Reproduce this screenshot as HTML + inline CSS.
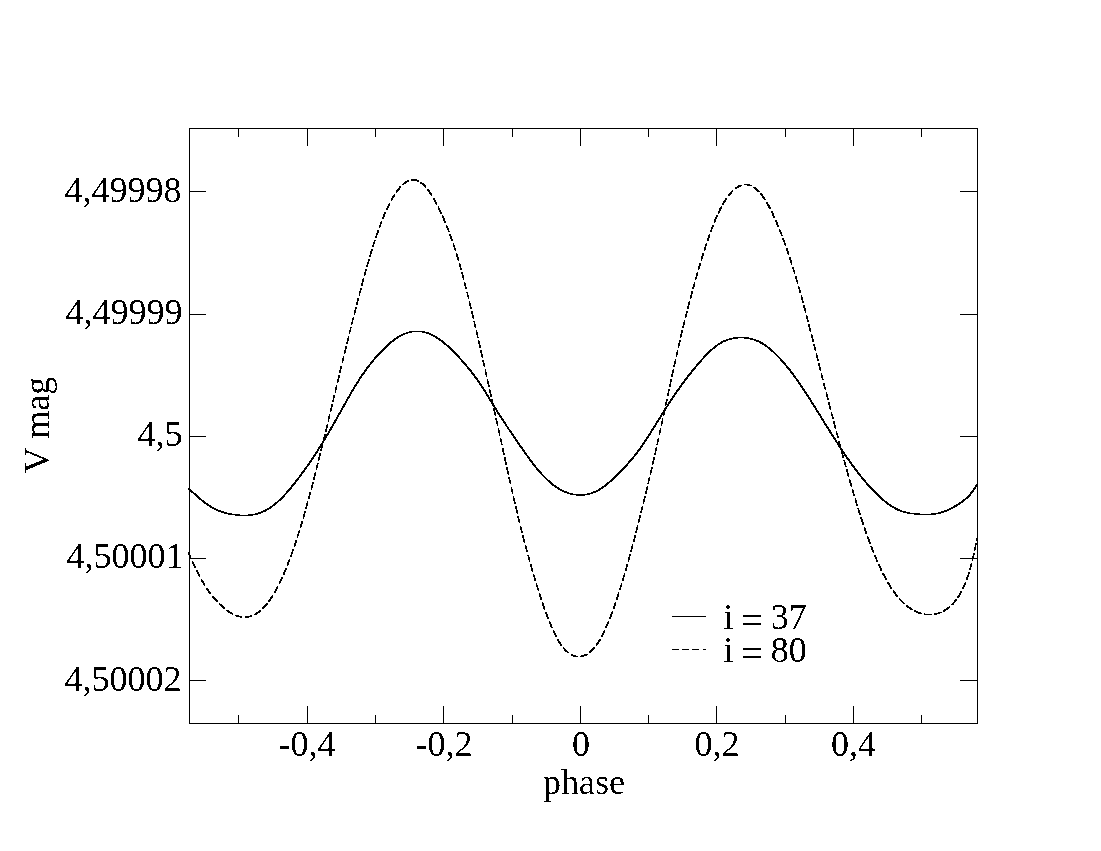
<!DOCTYPE html>
<html><head><meta charset="utf-8"><style>
html,body{margin:0;padding:0;background:#fff;width:1101px;height:851px;overflow:hidden}
svg{display:block}
text{font-family:"Liberation Serif",serif;font-size:36px;fill:#000}
</style></head><body>
<svg width="1101" height="851" viewBox="0 0 1101 851">
<rect width="1101" height="851" fill="#fff"/>
<path d="M189,128.5H978M189,723.5H978M189.5,128V724M977.5,128V724M307.5,706V724M307.5,128V146M443.5,706V724M443.5,128V146M580.5,706V724M580.5,128V146M716.5,706V724M716.5,128V146M853.5,706V724M853.5,128V146M238.5,715V724M238.5,128V137M375.5,715V724M375.5,128V137M512.5,715V724M512.5,128V137M648.5,715V724M648.5,128V137M785.5,715V724M785.5,128V137M921.5,715V724M921.5,128V137M189,191.5H206M960,191.5H978M189,314.5H206M960,314.5H978M189,436.5H206M960,436.5H978M189,558.5H206M960,558.5H978M189,680.5H206M960,680.5H978" stroke="#000" stroke-width="1" fill="none" shape-rendering="crispEdges"/>
<path d="M409 331h16v1h-16zM406 332h6v1h-6zM422 332h7v1h-7zM403 333h5v1h-5zM426 333h5v1h-5zM401 334h4v1h-4zM429 334h4v1h-4zM399 335h4v1h-4zM431 335h4v1h-4zM397 336h4v1h-4zM433 336h4v1h-4zM396 337h3v1h-3zM435 337h3v1h-3zM733 337h16v1h-16zM394 338h4v1h-4zM436 338h4v1h-4zM729 338h9v1h-9zM744 338h9v1h-9zM393 339h3v1h-3zM438 339h3v1h-3zM726 339h6v1h-6zM750 339h6v1h-6zM392 340h3v1h-3zM439 340h4v1h-4zM723 340h5v1h-5zM754 340h5v1h-5zM390 341h4v1h-4zM441 341h3v1h-3zM721 341h5v1h-5zM756 341h5v1h-5zM389 342h3v1h-3zM442 342h3v1h-3zM720 342h3v1h-3zM759 342h4v1h-4zM388 343h3v1h-3zM443 343h3v1h-3zM718 343h4v1h-4zM760 343h4v1h-4zM387 344h3v1h-3zM444 344h3v1h-3zM717 344h3v1h-3zM762 344h4v1h-4zM386 345h3v1h-3zM446 345h3v1h-3zM715 345h3v1h-3zM764 345h3v1h-3zM385 346h3v1h-3zM447 346h3v1h-3zM714 346h3v1h-3zM765 346h3v1h-3zM384 347h3v1h-3zM448 347h3v1h-3zM713 347h3v1h-3zM767 347h3v1h-3zM383 348h3v1h-3zM449 348h3v1h-3zM712 348h3v1h-3zM768 348h3v1h-3zM382 349h3v1h-3zM450 349h3v1h-3zM710 349h3v1h-3zM769 349h3v1h-3zM381 350h3v1h-3zM451 350h3v1h-3zM709 350h3v1h-3zM770 350h3v1h-3zM380 351h3v1h-3zM452 351h3v1h-3zM708 351h3v1h-3zM771 351h3v1h-3zM379 352h3v1h-3zM453 352h3v1h-3zM707 352h3v1h-3zM773 352h2v1h-2zM378 353h3v1h-3zM454 353h3v1h-3zM706 353h3v1h-3zM774 353h2v1h-2zM377 354h3v1h-3zM455 354h3v1h-3zM705 354h3v1h-3zM775 354h2v1h-2zM376 355h3v1h-3zM456 355h3v1h-3zM704 355h3v1h-3zM776 355h2v1h-2zM375 356h3v1h-3zM457 356h3v1h-3zM703 356h3v1h-3zM777 356h2v1h-2zM374 357h3v1h-3zM458 357h2v1h-2zM703 357h2v1h-2zM778 357h2v1h-2zM374 358h2v1h-2zM459 358h2v1h-2zM702 358h2v1h-2zM779 358h2v1h-2zM373 359h2v1h-2zM460 359h2v1h-2zM701 359h2v1h-2zM780 359h2v1h-2zM372 360h2v1h-2zM461 360h2v1h-2zM700 360h2v1h-2zM780 360h3v1h-3zM371 361h3v1h-3zM461 361h3v1h-3zM699 361h3v1h-3zM781 361h3v1h-3zM370 362h3v1h-3zM462 362h3v1h-3zM698 362h3v1h-3zM782 362h3v1h-3zM370 363h2v1h-2zM463 363h3v1h-3zM697 363h3v1h-3zM783 363h3v1h-3zM369 364h2v1h-2zM464 364h3v1h-3zM696 364h3v1h-3zM784 364h2v1h-2zM368 365h2v1h-2zM465 365h2v1h-2zM696 365h2v1h-2zM785 365h2v1h-2zM367 366h3v1h-3zM466 366h2v1h-2zM695 366h2v1h-2zM786 366h2v1h-2zM366 367h3v1h-3zM467 367h2v1h-2zM694 367h2v1h-2zM786 367h3v1h-3zM366 368h2v1h-2zM467 368h3v1h-3zM693 368h3v1h-3zM787 368h3v1h-3zM365 369h2v1h-2zM468 369h3v1h-3zM692 369h3v1h-3zM788 369h3v1h-3zM364 370h3v1h-3zM469 370h3v1h-3zM691 370h3v1h-3zM789 370h2v1h-2zM364 371h2v1h-2zM470 371h2v1h-2zM691 371h2v1h-2zM790 371h2v1h-2zM363 372h2v1h-2zM471 372h2v1h-2zM690 372h2v1h-2zM790 372h3v1h-3zM362 373h3v1h-3zM471 373h3v1h-3zM689 373h3v1h-3zM791 373h3v1h-3zM361 374h3v1h-3zM472 374h3v1h-3zM688 374h3v1h-3zM792 374h2v1h-2zM361 375h2v1h-2zM473 375h2v1h-2zM687 375h3v1h-3zM793 375h2v1h-2zM360 376h2v1h-2zM474 376h2v1h-2zM687 376h2v1h-2zM793 376h3v1h-3zM359 377h3v1h-3zM474 377h3v1h-3zM686 377h2v1h-2zM794 377h2v1h-2zM359 378h2v1h-2zM475 378h3v1h-3zM685 378h3v1h-3zM795 378h2v1h-2zM358 379h2v1h-2zM476 379h2v1h-2zM684 379h3v1h-3zM796 379h2v1h-2zM358 380h2v1h-2zM477 380h2v1h-2zM684 380h2v1h-2zM796 380h3v1h-3zM357 381h2v1h-2zM477 381h3v1h-3zM683 381h2v1h-2zM797 381h2v1h-2zM356 382h3v1h-3zM478 382h2v1h-2zM682 382h3v1h-3zM798 382h2v1h-2zM356 383h2v1h-2zM479 383h2v1h-2zM681 383h3v1h-3zM798 383h3v1h-3zM355 384h2v1h-2zM479 384h3v1h-3zM681 384h2v1h-2zM799 384h2v1h-2zM354 385h3v1h-3zM480 385h2v1h-2zM680 385h2v1h-2zM800 385h2v1h-2zM354 386h2v1h-2zM481 386h2v1h-2zM679 386h3v1h-3zM800 386h3v1h-3zM353 387h2v1h-2zM481 387h3v1h-3zM679 387h2v1h-2zM801 387h2v1h-2zM353 388h2v1h-2zM482 388h2v1h-2zM678 388h2v1h-2zM802 388h2v1h-2zM352 389h2v1h-2zM483 389h2v1h-2zM677 389h3v1h-3zM802 389h3v1h-3zM351 390h3v1h-3zM483 390h3v1h-3zM676 390h3v1h-3zM803 390h2v1h-2zM351 391h2v1h-2zM484 391h2v1h-2zM676 391h2v1h-2zM804 391h2v1h-2zM350 392h2v1h-2zM485 392h2v1h-2zM675 392h2v1h-2zM804 392h3v1h-3zM350 393h2v1h-2zM485 393h2v1h-2zM674 393h3v1h-3zM805 393h2v1h-2zM349 394h2v1h-2zM486 394h2v1h-2zM674 394h2v1h-2zM806 394h2v1h-2zM349 395h2v1h-2zM486 395h3v1h-3zM673 395h2v1h-2zM806 395h3v1h-3zM348 396h2v1h-2zM487 396h2v1h-2zM672 396h3v1h-3zM807 396h2v1h-2zM347 397h3v1h-3zM488 397h2v1h-2zM672 397h2v1h-2zM808 397h2v1h-2zM347 398h2v1h-2zM488 398h2v1h-2zM671 398h2v1h-2zM808 398h3v1h-3zM346 399h2v1h-2zM489 399h2v1h-2zM670 399h3v1h-3zM809 399h2v1h-2zM346 400h2v1h-2zM489 400h3v1h-3zM670 400h2v1h-2zM810 400h2v1h-2zM345 401h2v1h-2zM490 401h2v1h-2zM669 401h2v1h-2zM810 401h2v1h-2zM345 402h2v1h-2zM491 402h2v1h-2zM668 402h3v1h-3zM811 402h2v1h-2zM344 403h2v1h-2zM491 403h3v1h-3zM668 403h2v1h-2zM811 403h3v1h-3zM343 404h3v1h-3zM492 404h2v1h-2zM667 404h2v1h-2zM812 404h2v1h-2zM343 405h2v1h-2zM493 405h2v1h-2zM667 405h2v1h-2zM813 405h2v1h-2zM342 406h3v1h-3zM493 406h2v1h-2zM666 406h2v1h-2zM813 406h3v1h-3zM342 407h2v1h-2zM494 407h2v1h-2zM665 407h2v1h-2zM814 407h2v1h-2zM341 408h2v1h-2zM494 408h3v1h-3zM665 408h2v1h-2zM815 408h2v1h-2zM341 409h2v1h-2zM495 409h2v1h-2zM664 409h2v1h-2zM815 409h2v1h-2zM340 410h2v1h-2zM496 410h2v1h-2zM663 410h3v1h-3zM816 410h2v1h-2zM340 411h2v1h-2zM496 411h2v1h-2zM663 411h2v1h-2zM816 411h3v1h-3zM339 412h2v1h-2zM497 412h2v1h-2zM662 412h2v1h-2zM817 412h2v1h-2zM338 413h3v1h-3zM497 413h3v1h-3zM661 413h3v1h-3zM818 413h2v1h-2zM338 414h2v1h-2zM498 414h2v1h-2zM661 414h2v1h-2zM818 414h3v1h-3zM337 415h2v1h-2zM499 415h2v1h-2zM660 415h2v1h-2zM819 415h2v1h-2zM337 416h2v1h-2zM499 416h3v1h-3zM660 416h2v1h-2zM820 416h2v1h-2zM336 417h2v1h-2zM500 417h2v1h-2zM659 417h2v1h-2zM820 417h2v1h-2zM336 418h2v1h-2zM501 418h2v1h-2zM658 418h3v1h-3zM821 418h2v1h-2zM335 419h2v1h-2zM501 419h3v1h-3zM658 419h2v1h-2zM821 419h3v1h-3zM334 420h3v1h-3zM502 420h2v1h-2zM657 420h2v1h-2zM822 420h2v1h-2zM334 421h2v1h-2zM503 421h2v1h-2zM656 421h3v1h-3zM823 421h2v1h-2zM333 422h3v1h-3zM503 422h3v1h-3zM656 422h2v1h-2zM823 422h2v1h-2zM333 423h2v1h-2zM504 423h2v1h-2zM655 423h2v1h-2zM824 423h2v1h-2zM332 424h2v1h-2zM505 424h2v1h-2zM655 424h2v1h-2zM824 424h3v1h-3zM332 425h2v1h-2zM505 425h2v1h-2zM654 425h2v1h-2zM825 425h2v1h-2zM331 426h2v1h-2zM506 426h2v1h-2zM653 426h3v1h-3zM826 426h2v1h-2zM330 427h3v1h-3zM507 427h2v1h-2zM653 427h2v1h-2zM826 427h3v1h-3zM330 428h2v1h-2zM507 428h2v1h-2zM652 428h2v1h-2zM827 428h2v1h-2zM329 429h3v1h-3zM508 429h2v1h-2zM651 429h3v1h-3zM828 429h2v1h-2zM329 430h2v1h-2zM509 430h2v1h-2zM651 430h2v1h-2zM828 430h3v1h-3zM328 431h2v1h-2zM509 431h3v1h-3zM650 431h2v1h-2zM829 431h2v1h-2zM328 432h2v1h-2zM510 432h2v1h-2zM650 432h2v1h-2zM829 432h3v1h-3zM327 433h2v1h-2zM511 433h2v1h-2zM649 433h2v1h-2zM830 433h2v1h-2zM326 434h3v1h-3zM511 434h3v1h-3zM648 434h3v1h-3zM831 434h2v1h-2zM326 435h2v1h-2zM512 435h2v1h-2zM648 435h2v1h-2zM831 435h3v1h-3zM325 436h2v1h-2zM513 436h2v1h-2zM647 436h2v1h-2zM832 436h2v1h-2zM325 437h2v1h-2zM513 437h3v1h-3zM646 437h3v1h-3zM833 437h2v1h-2zM324 438h2v1h-2zM514 438h2v1h-2zM646 438h2v1h-2zM833 438h3v1h-3zM323 439h3v1h-3zM515 439h2v1h-2zM645 439h2v1h-2zM834 439h2v1h-2zM323 440h2v1h-2zM515 440h3v1h-3zM644 440h3v1h-3zM835 440h2v1h-2zM322 441h2v1h-2zM516 441h2v1h-2zM644 441h2v1h-2zM835 441h2v1h-2zM322 442h2v1h-2zM517 442h2v1h-2zM643 442h2v1h-2zM836 442h2v1h-2zM321 443h2v1h-2zM517 443h3v1h-3zM642 443h3v1h-3zM837 443h2v1h-2zM320 444h3v1h-3zM518 444h2v1h-2zM642 444h2v1h-2zM837 444h2v1h-2zM320 445h2v1h-2zM519 445h2v1h-2zM641 445h2v1h-2zM838 445h2v1h-2zM319 446h2v1h-2zM519 446h3v1h-3zM640 446h3v1h-3zM838 446h3v1h-3zM318 447h3v1h-3zM520 447h3v1h-3zM640 447h2v1h-2zM839 447h2v1h-2zM318 448h2v1h-2zM521 448h2v1h-2zM639 448h2v1h-2zM840 448h2v1h-2zM317 449h2v1h-2zM522 449h2v1h-2zM638 449h3v1h-3zM840 449h3v1h-3zM317 450h2v1h-2zM522 450h3v1h-3zM637 450h3v1h-3zM841 450h2v1h-2zM316 451h2v1h-2zM523 451h2v1h-2zM637 451h2v1h-2zM842 451h2v1h-2zM315 452h3v1h-3zM524 452h2v1h-2zM636 452h2v1h-2zM842 452h3v1h-3zM315 453h2v1h-2zM524 453h3v1h-3zM635 453h3v1h-3zM843 453h2v1h-2zM314 454h2v1h-2zM525 454h2v1h-2zM634 454h3v1h-3zM844 454h2v1h-2zM313 455h3v1h-3zM526 455h2v1h-2zM634 455h2v1h-2zM844 455h3v1h-3zM313 456h2v1h-2zM527 456h2v1h-2zM633 456h2v1h-2zM845 456h2v1h-2zM312 457h2v1h-2zM527 457h3v1h-3zM632 457h2v1h-2zM846 457h2v1h-2zM311 458h3v1h-3zM528 458h2v1h-2zM631 458h3v1h-3zM846 458h3v1h-3zM311 459h2v1h-2zM529 459h2v1h-2zM630 459h3v1h-3zM847 459h3v1h-3zM310 460h2v1h-2zM529 460h3v1h-3zM629 460h3v1h-3zM848 460h2v1h-2zM309 461h3v1h-3zM530 461h3v1h-3zM628 461h3v1h-3zM849 461h2v1h-2zM309 462h2v1h-2zM531 462h2v1h-2zM628 462h2v1h-2zM849 462h3v1h-3zM308 463h2v1h-2zM532 463h2v1h-2zM627 463h2v1h-2zM850 463h2v1h-2zM307 464h3v1h-3zM532 464h3v1h-3zM626 464h2v1h-2zM851 464h2v1h-2zM307 465h2v1h-2zM533 465h3v1h-3zM625 465h3v1h-3zM851 465h3v1h-3zM306 466h2v1h-2zM534 466h2v1h-2zM624 466h3v1h-3zM852 466h3v1h-3zM305 467h2v1h-2zM535 467h2v1h-2zM623 467h3v1h-3zM853 467h2v1h-2zM304 468h3v1h-3zM536 468h2v1h-2zM622 468h3v1h-3zM854 468h2v1h-2zM304 469h2v1h-2zM536 469h3v1h-3zM621 469h3v1h-3zM854 469h3v1h-3zM303 470h2v1h-2zM537 470h3v1h-3zM620 470h3v1h-3zM855 470h3v1h-3zM302 471h3v1h-3zM538 471h3v1h-3zM619 471h3v1h-3zM856 471h2v1h-2zM301 472h3v1h-3zM539 472h3v1h-3zM618 472h3v1h-3zM857 472h2v1h-2zM301 473h2v1h-2zM540 473h2v1h-2zM617 473h3v1h-3zM857 473h3v1h-3zM300 474h2v1h-2zM541 474h2v1h-2zM616 474h3v1h-3zM858 474h3v1h-3zM299 475h3v1h-3zM542 475h2v1h-2zM615 475h3v1h-3zM859 475h2v1h-2zM299 476h2v1h-2zM543 476h2v1h-2zM614 476h3v1h-3zM860 476h2v1h-2zM298 477h2v1h-2zM544 477h2v1h-2zM613 477h3v1h-3zM861 477h2v1h-2zM297 478h2v1h-2zM545 478h2v1h-2zM612 478h3v1h-3zM861 478h3v1h-3zM296 479h3v1h-3zM546 479h2v1h-2zM611 479h3v1h-3zM862 479h3v1h-3zM295 480h3v1h-3zM547 480h3v1h-3zM610 480h3v1h-3zM863 480h3v1h-3zM295 481h2v1h-2zM548 481h3v1h-3zM609 481h3v1h-3zM864 481h2v1h-2zM294 482h2v1h-2zM549 482h3v1h-3zM607 482h3v1h-3zM865 482h2v1h-2zM293 483h3v1h-3zM550 483h3v1h-3zM606 483h3v1h-3zM866 483h2v1h-2zM292 484h3v1h-3zM551 484h3v1h-3zM605 484h3v1h-3zM866 484h3v1h-3zM976 484h2v1h-2zM291 485h3v1h-3zM552 485h4v1h-4zM604 485h3v1h-3zM867 485h3v1h-3zM975 485h3v1h-3zM291 486h2v1h-2zM554 486h3v1h-3zM602 486h4v1h-4zM868 486h3v1h-3zM975 486h2v1h-2zM290 487h2v1h-2zM555 487h4v1h-4zM601 487h3v1h-3zM869 487h3v1h-3zM974 487h2v1h-2zM188 488h1v1h-1zM289 488h3v1h-3zM557 488h3v1h-3zM599 488h4v1h-4zM870 488h3v1h-3zM973 488h3v1h-3zM188 489h3v1h-3zM288 489h3v1h-3zM558 489h4v1h-4zM598 489h3v1h-3zM871 489h3v1h-3zM973 489h2v1h-2zM189 490h3v1h-3zM287 490h3v1h-3zM560 490h4v1h-4zM596 490h4v1h-4zM872 490h3v1h-3zM972 490h2v1h-2zM190 491h3v1h-3zM286 491h3v1h-3zM562 491h5v1h-5zM593 491h5v1h-5zM873 491h3v1h-3zM971 491h3v1h-3zM191 492h3v1h-3zM286 492h2v1h-2zM564 492h5v1h-5zM591 492h5v1h-5zM874 492h3v1h-3zM970 492h3v1h-3zM193 493h3v1h-3zM285 493h2v1h-2zM567 493h6v1h-6zM587 493h6v1h-6zM875 493h3v1h-3zM970 493h2v1h-2zM194 494h3v1h-3zM284 494h2v1h-2zM570 494h20v1h-20zM876 494h3v1h-3zM969 494h2v1h-2zM195 495h3v1h-3zM283 495h2v1h-2zM576 495h9v1h-9zM877 495h3v1h-3zM968 495h3v1h-3zM196 496h3v1h-3zM282 496h3v1h-3zM878 496h3v1h-3zM967 496h3v1h-3zM197 497h3v1h-3zM281 497h3v1h-3zM879 497h3v1h-3zM966 497h3v1h-3zM198 498h3v1h-3zM280 498h3v1h-3zM880 498h3v1h-3zM965 498h3v1h-3zM199 499h3v1h-3zM279 499h3v1h-3zM881 499h3v1h-3zM963 499h3v1h-3zM201 500h3v1h-3zM278 500h3v1h-3zM882 500h3v1h-3zM962 500h3v1h-3zM202 501h3v1h-3zM277 501h2v1h-2zM884 501h3v1h-3zM961 501h3v1h-3zM203 502h3v1h-3zM275 502h3v1h-3zM885 502h3v1h-3zM959 502h4v1h-4zM204 503h4v1h-4zM274 503h3v1h-3zM886 503h3v1h-3zM958 503h3v1h-3zM206 504h3v1h-3zM273 504h3v1h-3zM887 504h4v1h-4zM956 504h4v1h-4zM207 505h4v1h-4zM272 505h3v1h-3zM889 505h3v1h-3zM954 505h4v1h-4zM209 506h3v1h-3zM270 506h3v1h-3zM890 506h4v1h-4zM953 506h4v1h-4zM210 507h4v1h-4zM269 507h3v1h-3zM892 507h4v1h-4zM951 507h4v1h-4zM212 508h4v1h-4zM267 508h4v1h-4zM894 508h4v1h-4zM949 508h4v1h-4zM214 509h4v1h-4zM265 509h4v1h-4zM895 509h5v1h-5zM947 509h4v1h-4zM216 510h5v1h-5zM263 510h4v1h-4zM897 510h5v1h-5zM944 510h5v1h-5zM218 511h6v1h-6zM261 511h5v1h-5zM900 511h6v1h-6zM941 511h6v1h-6zM221 512h6v1h-6zM258 512h5v1h-5zM903 512h7v1h-7zM938 512h6v1h-6zM224 513h8v1h-8zM255 513h6v1h-6zM907 513h13v1h-13zM931 513h10v1h-10zM228 514h12v1h-12zM248 514h10v1h-10zM914 514h22v1h-22zM235 515h18v1h-18z" fill="#000" shape-rendering="crispEdges"/>
<path d="M411 179h6v1h-6zM407 180h2v1h-2zM411 180h8v1h-8zM405 181h4v1h-4zM417 181h2v1h-2zM404 182h3v1h-3zM420 182h2v1h-2zM403 183h3v1h-3zM420 183h4v1h-4zM402 184h2v1h-2zM422 184h3v1h-3zM744 184h6v1h-6zM423 185h3v1h-3zM738 185h4v1h-4zM747 185h5v1h-5zM399 186h2v1h-2zM424 186h2v1h-2zM737 186h4v1h-4zM399 187h2v1h-2zM425 187h1v1h-1zM735 187h4v1h-4zM753 187h3v1h-3zM398 188h2v1h-2zM735 188h2v1h-2zM754 188h3v1h-3zM397 189h3v1h-3zM427 189h2v1h-2zM755 189h3v1h-3zM396 190h3v1h-3zM427 190h3v1h-3zM732 190h1v1h-1zM756 190h3v1h-3zM396 191h2v1h-2zM428 191h2v1h-2zM731 191h2v1h-2zM757 191h3v1h-3zM396 192h1v1h-1zM429 192h2v1h-2zM730 192h2v1h-2zM429 193h3v1h-3zM729 193h3v1h-3zM760 193h2v1h-2zM394 194h1v1h-1zM430 194h2v1h-2zM728 194h3v1h-3zM760 194h3v1h-3zM393 195h2v1h-2zM431 195h1v1h-1zM728 195h2v1h-2zM761 195h2v1h-2zM392 196h3v1h-3zM762 196h2v1h-2zM392 197h2v1h-2zM762 197h3v1h-3zM391 198h2v1h-2zM433 198h2v1h-2zM725 198h2v1h-2zM763 198h2v1h-2zM391 199h2v1h-2zM433 199h2v1h-2zM725 199h2v1h-2zM764 199h2v1h-2zM391 200h1v1h-1zM434 200h2v1h-2zM724 200h2v1h-2zM434 201h2v1h-2zM723 201h3v1h-3zM435 202h2v1h-2zM723 202h2v1h-2zM766 202h2v1h-2zM389 203h1v1h-1zM435 203h2v1h-2zM722 203h2v1h-2zM766 203h2v1h-2zM388 204h2v1h-2zM436 204h1v1h-1zM722 204h2v1h-2zM767 204h2v1h-2zM388 205h2v1h-2zM767 205h3v1h-3zM387 206h2v1h-2zM438 206h1v1h-1zM721 206h1v1h-1zM768 206h2v1h-2zM387 207h2v1h-2zM438 207h1v1h-1zM720 207h2v1h-2zM768 207h3v1h-3zM386 208h2v1h-2zM438 208h2v1h-2zM719 208h3v1h-3zM769 208h2v1h-2zM386 209h2v1h-2zM438 209h2v1h-2zM719 209h2v1h-2zM439 210h2v1h-2zM719 210h2v1h-2zM439 211h2v1h-2zM718 211h2v1h-2zM771 211h2v1h-2zM384 212h2v1h-2zM440 212h2v1h-2zM718 212h2v1h-2zM771 212h2v1h-2zM384 213h2v1h-2zM440 213h2v1h-2zM718 213h1v1h-1zM772 213h2v1h-2zM383 214h2v1h-2zM772 214h2v1h-2zM383 215h2v1h-2zM442 215h1v1h-1zM716 215h2v1h-2zM772 215h2v1h-2zM383 216h2v1h-2zM442 216h2v1h-2zM716 216h2v1h-2zM773 216h2v1h-2zM382 217h2v1h-2zM442 217h2v1h-2zM715 217h2v1h-2zM773 217h2v1h-2zM382 218h2v1h-2zM443 218h2v1h-2zM715 218h2v1h-2zM443 219h2v1h-2zM714 219h2v1h-2zM443 220h2v1h-2zM714 220h2v1h-2zM775 220h2v1h-2zM381 221h1v1h-1zM444 221h2v1h-2zM714 221h2v1h-2zM775 221h2v1h-2zM380 222h2v1h-2zM444 222h2v1h-2zM714 222h1v1h-1zM776 222h2v1h-2zM380 223h2v1h-2zM776 223h2v1h-2zM380 224h1v1h-1zM776 224h2v1h-2zM379 225h2v1h-2zM446 225h1v1h-1zM712 225h2v1h-2zM777 225h2v1h-2zM379 226h2v1h-2zM446 226h2v1h-2zM712 226h2v1h-2zM777 226h2v1h-2zM379 227h1v1h-1zM446 227h2v1h-2zM711 227h2v1h-2zM447 228h2v1h-2zM711 228h2v1h-2zM447 229h2v1h-2zM711 229h1v1h-1zM779 229h1v1h-1zM377 230h2v1h-2zM448 230h1v1h-1zM710 230h2v1h-2zM779 230h2v1h-2zM377 231h2v1h-2zM448 231h2v1h-2zM710 231h2v1h-2zM779 231h2v1h-2zM377 232h2v1h-2zM780 232h2v1h-2zM376 233h2v1h-2zM780 233h2v1h-2zM376 234h2v1h-2zM449 234h2v1h-2zM709 234h1v1h-1zM781 234h1v1h-1zM376 235h1v1h-1zM449 235h2v1h-2zM708 235h2v1h-2zM781 235h2v1h-2zM375 236h2v1h-2zM450 236h2v1h-2zM708 236h2v1h-2zM375 237h2v1h-2zM450 237h2v1h-2zM708 237h2v1h-2zM450 238h2v1h-2zM707 238h2v1h-2zM782 238h2v1h-2zM451 239h2v1h-2zM707 239h2v1h-2zM782 239h2v1h-2zM374 240h2v1h-2zM451 240h2v1h-2zM707 240h2v1h-2zM783 240h2v1h-2zM374 241h1v1h-1zM783 241h2v1h-2zM373 242h2v1h-2zM784 242h1v1h-1zM373 243h2v1h-2zM453 243h1v1h-1zM706 243h1v1h-1zM784 243h2v1h-2zM373 244h1v1h-1zM453 244h1v1h-1zM705 244h2v1h-2zM784 244h2v1h-2zM372 245h2v1h-2zM453 245h2v1h-2zM705 245h2v1h-2zM785 245h1v1h-1zM372 246h2v1h-2zM453 246h2v1h-2zM705 246h1v1h-1zM454 247h1v1h-1zM704 247h2v1h-2zM454 248h2v1h-2zM704 248h2v1h-2zM786 248h2v1h-2zM371 249h2v1h-2zM454 249h2v1h-2zM704 249h2v1h-2zM786 249h2v1h-2zM371 250h2v1h-2zM455 250h1v1h-1zM704 250h1v1h-1zM786 250h2v1h-2zM370 251h2v1h-2zM787 251h2v1h-2zM370 252h2v1h-2zM787 252h2v1h-2zM370 253h2v1h-2zM456 253h1v1h-1zM702 253h2v1h-2zM787 253h2v1h-2zM370 254h1v1h-1zM456 254h2v1h-2zM702 254h2v1h-2zM788 254h1v1h-1zM369 255h2v1h-2zM456 255h2v1h-2zM702 255h2v1h-2zM369 256h2v1h-2zM456 256h2v1h-2zM701 256h2v1h-2zM457 257h2v1h-2zM701 257h2v1h-2zM789 257h2v1h-2zM457 258h2v1h-2zM701 258h2v1h-2zM789 258h2v1h-2zM368 259h2v1h-2zM457 259h2v1h-2zM701 259h1v1h-1zM789 259h2v1h-2zM368 260h2v1h-2zM458 260h1v1h-1zM701 260h1v1h-1zM790 260h2v1h-2zM368 261h1v1h-1zM790 261h2v1h-2zM367 262h2v1h-2zM790 262h2v1h-2zM367 263h2v1h-2zM459 263h1v1h-1zM699 263h2v1h-2zM791 263h1v1h-1zM367 264h1v1h-1zM459 264h2v1h-2zM699 264h2v1h-2zM791 264h1v1h-1zM366 265h2v1h-2zM459 265h2v1h-2zM699 265h2v1h-2zM366 266h2v1h-2zM459 266h2v1h-2zM698 266h2v1h-2zM460 267h1v1h-1zM698 267h2v1h-2zM792 267h2v1h-2zM460 268h2v1h-2zM698 268h2v1h-2zM792 268h2v1h-2zM365 269h2v1h-2zM460 269h2v1h-2zM698 269h1v1h-1zM793 269h1v1h-1zM365 270h2v1h-2zM793 270h2v1h-2zM365 271h1v1h-1zM793 271h2v1h-2zM364 272h2v1h-2zM461 272h2v1h-2zM697 272h1v1h-1zM794 272h1v1h-1zM364 273h2v1h-2zM461 273h2v1h-2zM696 273h2v1h-2zM794 273h1v1h-1zM364 274h2v1h-2zM462 274h1v1h-1zM696 274h2v1h-2zM364 275h1v1h-1zM462 275h2v1h-2zM696 275h2v1h-2zM462 276h2v1h-2zM696 276h1v1h-1zM795 276h2v1h-2zM462 277h2v1h-2zM695 277h2v1h-2zM795 277h2v1h-2zM363 278h1v1h-1zM463 278h1v1h-1zM695 278h2v1h-2zM795 278h2v1h-2zM362 279h2v1h-2zM463 279h1v1h-1zM695 279h1v1h-1zM796 279h1v1h-1zM362 280h2v1h-2zM796 280h2v1h-2zM362 281h2v1h-2zM796 281h2v1h-2zM362 282h1v1h-1zM464 282h1v1h-1zM694 282h1v1h-1zM797 282h1v1h-1zM361 283h2v1h-2zM464 283h2v1h-2zM694 283h1v1h-1zM797 283h1v1h-1zM361 284h2v1h-2zM464 284h2v1h-2zM693 284h2v1h-2zM361 285h2v1h-2zM464 285h2v1h-2zM693 285h2v1h-2zM465 286h1v1h-1zM693 286h2v1h-2zM798 286h1v1h-1zM465 287h2v1h-2zM692 287h2v1h-2zM798 287h2v1h-2zM360 288h2v1h-2zM465 288h2v1h-2zM692 288h2v1h-2zM798 288h2v1h-2zM360 289h2v1h-2zM799 289h1v1h-1zM360 290h1v1h-1zM799 290h2v1h-2zM359 291h2v1h-2zM691 291h2v1h-2zM799 291h2v1h-2zM359 292h2v1h-2zM466 292h2v1h-2zM691 292h2v1h-2zM799 292h2v1h-2zM359 293h1v1h-1zM467 293h1v1h-1zM691 293h2v1h-2zM359 294h1v1h-1zM467 294h1v1h-1zM691 294h1v1h-1zM359 295h1v1h-1zM467 295h2v1h-2zM690 295h2v1h-2zM801 295h1v1h-1zM467 296h2v1h-2zM690 296h2v1h-2zM801 296h1v1h-1zM468 297h1v1h-1zM690 297h2v1h-2zM801 297h2v1h-2zM357 298h2v1h-2zM468 298h1v1h-1zM690 298h1v1h-1zM801 298h2v1h-2zM357 299h2v1h-2zM801 299h2v1h-2zM357 300h2v1h-2zM802 300h1v1h-1zM357 301h1v1h-1zM469 301h1v1h-1zM689 301h1v1h-1zM802 301h2v1h-2zM356 302h2v1h-2zM469 302h1v1h-1zM688 302h2v1h-2zM802 302h2v1h-2zM356 303h2v1h-2zM469 303h2v1h-2zM688 303h2v1h-2zM356 304h2v1h-2zM469 304h2v1h-2zM688 304h2v1h-2zM469 305h2v1h-2zM688 305h1v1h-1zM803 305h2v1h-2zM470 306h1v1h-1zM687 306h2v1h-2zM803 306h2v1h-2zM355 307h2v1h-2zM470 307h2v1h-2zM687 307h2v1h-2zM803 307h2v1h-2zM355 308h2v1h-2zM470 308h2v1h-2zM687 308h2v1h-2zM804 308h2v1h-2zM355 309h1v1h-1zM804 309h2v1h-2zM354 310h2v1h-2zM804 310h2v1h-2zM354 311h2v1h-2zM471 311h2v1h-2zM686 311h2v1h-2zM805 311h1v1h-1zM354 312h2v1h-2zM471 312h2v1h-2zM686 312h2v1h-2zM805 312h1v1h-1zM354 313h1v1h-1zM471 313h2v1h-2zM686 313h1v1h-1zM354 314h1v1h-1zM472 314h1v1h-1zM685 314h2v1h-2zM472 315h2v1h-2zM685 315h2v1h-2zM806 315h1v1h-1zM472 316h2v1h-2zM685 316h2v1h-2zM806 316h2v1h-2zM353 317h1v1h-1zM472 317h2v1h-2zM685 317h1v1h-1zM806 317h2v1h-2zM352 318h2v1h-2zM473 318h1v1h-1zM806 318h2v1h-2zM352 319h2v1h-2zM807 319h1v1h-1zM352 320h1v1h-1zM684 320h1v1h-1zM807 320h2v1h-2zM352 321h1v1h-1zM473 321h2v1h-2zM684 321h1v1h-1zM807 321h2v1h-2zM351 322h2v1h-2zM474 322h1v1h-1zM683 322h2v1h-2zM351 323h2v1h-2zM474 323h1v1h-1zM683 323h2v1h-2zM351 324h1v1h-1zM474 324h2v1h-2zM683 324h2v1h-2zM808 324h2v1h-2zM474 325h2v1h-2zM683 325h1v1h-1zM808 325h2v1h-2zM474 326h2v1h-2zM682 326h2v1h-2zM808 326h2v1h-2zM350 327h2v1h-2zM475 327h1v1h-1zM682 327h2v1h-2zM809 327h1v1h-1zM350 328h1v1h-1zM809 328h2v1h-2zM350 329h1v1h-1zM809 329h2v1h-2zM349 330h2v1h-2zM476 330h1v1h-1zM681 330h2v1h-2zM809 330h2v1h-2zM349 331h2v1h-2zM476 331h1v1h-1zM681 331h2v1h-2zM810 331h1v1h-1zM349 332h1v1h-1zM476 332h2v1h-2zM681 332h2v1h-2zM349 333h1v1h-1zM476 333h2v1h-2zM681 333h1v1h-1zM476 334h2v1h-2zM680 334h2v1h-2zM811 334h1v1h-1zM477 335h1v1h-1zM680 335h2v1h-2zM811 335h2v1h-2zM348 336h1v1h-1zM477 336h1v1h-1zM680 336h2v1h-2zM811 336h2v1h-2zM348 337h1v1h-1zM477 337h2v1h-2zM680 337h1v1h-1zM811 337h2v1h-2zM347 338h2v1h-2zM812 338h1v1h-1zM347 339h2v1h-2zM812 339h2v1h-2zM347 340h2v1h-2zM478 340h1v1h-1zM679 340h2v1h-2zM812 340h2v1h-2zM347 341h1v1h-1zM478 341h2v1h-2zM679 341h2v1h-2zM812 341h2v1h-2zM346 342h2v1h-2zM478 342h2v1h-2zM679 342h1v1h-1zM346 343h2v1h-2zM478 343h2v1h-2zM678 343h2v1h-2zM479 344h1v1h-1zM678 344h2v1h-2zM813 344h2v1h-2zM479 345h2v1h-2zM678 345h2v1h-2zM813 345h2v1h-2zM345 346h2v1h-2zM479 346h2v1h-2zM678 346h1v1h-1zM814 346h1v1h-1zM345 347h2v1h-2zM479 347h2v1h-2zM678 347h1v1h-1zM814 347h2v1h-2zM345 348h2v1h-2zM814 348h2v1h-2zM345 349h1v1h-1zM814 349h2v1h-2zM344 350h2v1h-2zM480 350h2v1h-2zM677 350h1v1h-1zM815 350h1v1h-1zM344 351h2v1h-2zM480 351h2v1h-2zM677 351h1v1h-1zM344 352h2v1h-2zM480 352h2v1h-2zM676 352h2v1h-2zM344 353h1v1h-1zM481 353h1v1h-1zM676 353h2v1h-2zM816 353h1v1h-1zM481 354h2v1h-2zM676 354h2v1h-2zM816 354h1v1h-1zM481 355h2v1h-2zM676 355h1v1h-1zM816 355h2v1h-2zM343 356h1v1h-1zM481 356h2v1h-2zM676 356h1v1h-1zM816 356h2v1h-2zM343 357h1v1h-1zM482 357h1v1h-1zM816 357h2v1h-2zM342 358h2v1h-2zM817 358h1v1h-1zM342 359h2v1h-2zM675 359h1v1h-1zM817 359h2v1h-2zM342 360h2v1h-2zM482 360h2v1h-2zM675 360h1v1h-1zM817 360h2v1h-2zM342 361h1v1h-1zM482 361h2v1h-2zM674 361h2v1h-2zM342 362h1v1h-1zM483 362h1v1h-1zM674 362h2v1h-2zM483 363h2v1h-2zM674 363h2v1h-2zM818 363h2v1h-2zM483 364h2v1h-2zM674 364h1v1h-1zM818 364h2v1h-2zM483 365h2v1h-2zM673 365h2v1h-2zM818 365h2v1h-2zM340 366h2v1h-2zM484 366h1v1h-1zM673 366h2v1h-2zM819 366h1v1h-1zM340 367h2v1h-2zM819 367h2v1h-2zM340 368h2v1h-2zM819 368h2v1h-2zM340 369h1v1h-1zM485 369h1v1h-1zM673 369h1v1h-1zM819 369h2v1h-2zM339 370h2v1h-2zM485 370h1v1h-1zM672 370h2v1h-2zM820 370h1v1h-1zM339 371h2v1h-2zM485 371h1v1h-1zM672 371h2v1h-2zM339 372h2v1h-2zM485 372h2v1h-2zM672 372h2v1h-2zM485 373h2v1h-2zM672 373h1v1h-1zM821 373h1v1h-1zM485 374h2v1h-2zM671 374h2v1h-2zM821 374h1v1h-1zM338 375h2v1h-2zM486 375h1v1h-1zM671 375h2v1h-2zM821 375h2v1h-2zM338 376h2v1h-2zM486 376h1v1h-1zM671 376h2v1h-2zM821 376h2v1h-2zM338 377h2v1h-2zM821 377h2v1h-2zM338 378h1v1h-1zM822 378h1v1h-1zM337 379h2v1h-2zM487 379h1v1h-1zM670 379h2v1h-2zM822 379h2v1h-2zM337 380h2v1h-2zM487 380h1v1h-1zM670 380h2v1h-2zM337 381h2v1h-2zM487 381h2v1h-2zM670 381h2v1h-2zM337 382h1v1h-1zM487 382h2v1h-2zM670 382h1v1h-1zM487 383h2v1h-2zM670 383h1v1h-1zM823 383h2v1h-2zM488 384h1v1h-1zM669 384h2v1h-2zM823 384h2v1h-2zM336 385h1v1h-1zM488 385h2v1h-2zM669 385h2v1h-2zM823 385h2v1h-2zM336 386h1v1h-1zM488 386h2v1h-2zM669 386h2v1h-2zM824 386h1v1h-1zM335 387h2v1h-2zM824 387h2v1h-2zM335 388h2v1h-2zM824 388h2v1h-2zM335 389h2v1h-2zM489 389h1v1h-1zM668 389h2v1h-2zM825 389h1v1h-1zM335 390h1v1h-1zM489 390h2v1h-2zM668 390h2v1h-2zM335 391h1v1h-1zM489 391h2v1h-2zM668 391h1v1h-1zM335 392h1v1h-1zM489 392h2v1h-2zM668 392h1v1h-1zM826 392h1v1h-1zM490 393h1v1h-1zM667 393h2v1h-2zM826 393h1v1h-1zM490 394h2v1h-2zM667 394h2v1h-2zM826 394h2v1h-2zM333 395h2v1h-2zM490 395h2v1h-2zM667 395h2v1h-2zM826 395h2v1h-2zM333 396h2v1h-2zM490 396h2v1h-2zM826 396h2v1h-2zM333 397h2v1h-2zM827 397h1v1h-1zM333 398h1v1h-1zM827 398h2v1h-2zM333 399h1v1h-1zM491 399h2v1h-2zM666 399h2v1h-2zM827 399h2v1h-2zM332 400h2v1h-2zM491 400h2v1h-2zM666 400h2v1h-2zM332 401h2v1h-2zM491 401h2v1h-2zM666 401h1v1h-1zM492 402h1v1h-1zM665 402h2v1h-2zM828 402h2v1h-2zM492 403h2v1h-2zM665 403h2v1h-2zM828 403h2v1h-2zM331 404h2v1h-2zM492 404h2v1h-2zM665 404h2v1h-2zM828 404h2v1h-2zM331 405h2v1h-2zM492 405h2v1h-2zM665 405h1v1h-1zM829 405h1v1h-1zM331 406h2v1h-2zM829 406h2v1h-2zM331 407h1v1h-1zM829 407h2v1h-2zM330 408h2v1h-2zM493 408h2v1h-2zM664 408h2v1h-2zM829 408h2v1h-2zM330 409h2v1h-2zM493 409h2v1h-2zM664 409h2v1h-2zM830 409h1v1h-1zM330 410h2v1h-2zM493 410h2v1h-2zM664 410h1v1h-1zM330 411h1v1h-1zM494 411h1v1h-1zM664 411h1v1h-1zM494 412h2v1h-2zM663 412h2v1h-2zM831 412h1v1h-1zM494 413h2v1h-2zM663 413h2v1h-2zM831 413h1v1h-1zM329 414h1v1h-1zM494 414h2v1h-2zM663 414h2v1h-2zM831 414h2v1h-2zM329 415h1v1h-1zM495 415h1v1h-1zM663 415h1v1h-1zM831 415h2v1h-2zM328 416h2v1h-2zM832 416h1v1h-1zM328 417h2v1h-2zM832 417h2v1h-2zM328 418h2v1h-2zM495 418h2v1h-2zM662 418h1v1h-1zM832 418h2v1h-2zM328 419h1v1h-1zM495 419h2v1h-2zM662 419h1v1h-1zM328 420h1v1h-1zM496 420h1v1h-1zM662 420h1v1h-1zM328 421h1v1h-1zM496 421h2v1h-2zM661 421h2v1h-2zM833 421h2v1h-2zM496 422h2v1h-2zM661 422h2v1h-2zM833 422h2v1h-2zM496 423h2v1h-2zM661 423h2v1h-2zM833 423h2v1h-2zM327 424h1v1h-1zM497 424h1v1h-1zM661 424h1v1h-1zM834 424h1v1h-1zM326 425h2v1h-2zM497 425h1v1h-1zM661 425h1v1h-1zM834 425h2v1h-2zM326 426h2v1h-2zM834 426h2v1h-2zM326 427h2v1h-2zM834 427h2v1h-2zM326 428h1v1h-1zM498 428h1v1h-1zM660 428h1v1h-1zM835 428h1v1h-1zM325 429h2v1h-2zM498 429h1v1h-1zM660 429h1v1h-1zM325 430h2v1h-2zM498 430h2v1h-2zM659 430h2v1h-2zM325 431h2v1h-2zM498 431h2v1h-2zM659 431h2v1h-2zM836 431h1v1h-1zM498 432h2v1h-2zM659 432h2v1h-2zM836 432h1v1h-1zM499 433h1v1h-1zM659 433h1v1h-1zM836 433h2v1h-2zM324 434h2v1h-2zM499 434h1v1h-1zM659 434h1v1h-1zM836 434h2v1h-2zM324 435h2v1h-2zM499 435h1v1h-1zM837 435h1v1h-1zM324 436h1v1h-1zM837 436h2v1h-2zM323 437h2v1h-2zM837 437h2v1h-2zM323 438h2v1h-2zM500 438h1v1h-1zM658 438h1v1h-1zM323 439h2v1h-2zM500 439h2v1h-2zM657 439h2v1h-2zM323 440h1v1h-1zM500 440h2v1h-2zM657 440h2v1h-2zM500 441h2v1h-2zM657 441h2v1h-2zM838 441h2v1h-2zM501 442h1v1h-1zM657 442h1v1h-1zM838 442h2v1h-2zM322 443h1v1h-1zM501 443h1v1h-1zM657 443h1v1h-1zM839 443h1v1h-1zM322 444h1v1h-1zM501 444h2v1h-2zM656 444h2v1h-2zM839 444h2v1h-2zM321 445h2v1h-2zM839 445h2v1h-2zM321 446h2v1h-2zM839 446h2v1h-2zM321 447h2v1h-2zM656 447h1v1h-1zM840 447h1v1h-1zM321 448h1v1h-1zM502 448h2v1h-2zM655 448h2v1h-2zM320 449h2v1h-2zM502 449h2v1h-2zM655 449h2v1h-2zM320 450h2v1h-2zM502 450h2v1h-2zM655 450h2v1h-2zM841 450h1v1h-1zM502 451h2v1h-2zM655 451h1v1h-1zM841 451h2v1h-2zM503 452h1v1h-1zM655 452h1v1h-1zM841 452h2v1h-2zM319 453h2v1h-2zM503 453h2v1h-2zM654 453h2v1h-2zM841 453h2v1h-2zM319 454h2v1h-2zM503 454h2v1h-2zM654 454h2v1h-2zM842 454h1v1h-1zM319 455h2v1h-2zM842 455h2v1h-2zM319 456h1v1h-1zM842 456h2v1h-2zM318 457h2v1h-2zM504 457h2v1h-2zM653 457h2v1h-2zM842 457h2v1h-2zM318 458h2v1h-2zM504 458h2v1h-2zM653 458h2v1h-2zM318 459h2v1h-2zM504 459h2v1h-2zM653 459h2v1h-2zM318 460h1v1h-1zM504 460h2v1h-2zM653 460h1v1h-1zM843 460h2v1h-2zM505 461h1v1h-1zM652 461h2v1h-2zM844 461h1v1h-1zM505 462h2v1h-2zM652 462h2v1h-2zM844 462h2v1h-2zM317 463h2v1h-2zM505 463h2v1h-2zM652 463h2v1h-2zM844 463h2v1h-2zM317 464h1v1h-1zM505 464h2v1h-2zM652 464h1v1h-1zM844 464h2v1h-2zM316 465h2v1h-2zM845 465h1v1h-1zM316 466h2v1h-2zM845 466h2v1h-2zM316 467h2v1h-2zM506 467h2v1h-2zM651 467h2v1h-2zM316 468h1v1h-1zM506 468h2v1h-2zM651 468h2v1h-2zM316 469h1v1h-1zM506 469h2v1h-2zM651 469h1v1h-1zM846 469h2v1h-2zM507 470h1v1h-1zM650 470h2v1h-2zM846 470h2v1h-2zM507 471h2v1h-2zM650 471h2v1h-2zM846 471h2v1h-2zM315 472h1v1h-1zM507 472h2v1h-2zM650 472h2v1h-2zM847 472h1v1h-1zM314 473h2v1h-2zM507 473h2v1h-2zM650 473h1v1h-1zM847 473h2v1h-2zM314 474h2v1h-2zM508 474h1v1h-1zM650 474h1v1h-1zM847 474h2v1h-2zM314 475h2v1h-2zM847 475h2v1h-2zM314 476h1v1h-1zM848 476h1v1h-1zM313 477h2v1h-2zM508 477h2v1h-2zM649 477h1v1h-1zM313 478h2v1h-2zM508 478h2v1h-2zM648 478h2v1h-2zM313 479h2v1h-2zM509 479h1v1h-1zM648 479h2v1h-2zM849 479h1v1h-1zM509 480h2v1h-2zM648 480h2v1h-2zM849 480h2v1h-2zM509 481h2v1h-2zM648 481h1v1h-1zM849 481h2v1h-2zM312 482h2v1h-2zM509 482h2v1h-2zM648 482h1v1h-1zM849 482h2v1h-2zM312 483h2v1h-2zM510 483h1v1h-1zM647 483h2v1h-2zM850 483h2v1h-2zM312 484h1v1h-1zM850 484h2v1h-2zM311 485h2v1h-2zM850 485h2v1h-2zM311 486h2v1h-2zM647 486h1v1h-1zM851 486h1v1h-1zM311 487h2v1h-2zM511 487h1v1h-1zM646 487h2v1h-2zM311 488h1v1h-1zM511 488h1v1h-1zM646 488h2v1h-2zM311 489h1v1h-1zM511 489h2v1h-2zM646 489h2v1h-2zM852 489h1v1h-1zM511 490h2v1h-2zM646 490h1v1h-1zM852 490h2v1h-2zM511 491h2v1h-2zM645 491h2v1h-2zM852 491h2v1h-2zM309 492h2v1h-2zM512 492h1v1h-1zM645 492h2v1h-2zM852 492h2v1h-2zM309 493h2v1h-2zM512 493h1v1h-1zM645 493h2v1h-2zM853 493h1v1h-1zM309 494h2v1h-2zM853 494h2v1h-2zM309 495h1v1h-1zM853 495h2v1h-2zM308 496h2v1h-2zM513 496h1v1h-1zM644 496h2v1h-2zM308 497h2v1h-2zM513 497h1v1h-1zM644 497h2v1h-2zM308 498h2v1h-2zM513 498h2v1h-2zM644 498h1v1h-1zM855 498h1v1h-1zM513 499h2v1h-2zM643 499h2v1h-2zM855 499h1v1h-1zM513 500h2v1h-2zM643 500h2v1h-2zM855 500h2v1h-2zM307 501h1v1h-1zM514 501h1v1h-1zM643 501h2v1h-2zM855 501h2v1h-2zM307 502h1v1h-1zM514 502h2v1h-2zM643 502h1v1h-1zM855 502h2v1h-2zM306 503h2v1h-2zM514 503h2v1h-2zM643 503h1v1h-1zM856 503h1v1h-1zM306 504h2v1h-2zM856 504h2v1h-2zM306 505h2v1h-2zM856 505h2v1h-2zM306 506h1v1h-1zM515 506h2v1h-2zM642 506h1v1h-1zM305 507h2v1h-2zM515 507h2v1h-2zM641 507h2v1h-2zM305 508h2v1h-2zM515 508h2v1h-2zM641 508h2v1h-2zM857 508h2v1h-2zM516 509h1v1h-1zM641 509h2v1h-2zM858 509h1v1h-1zM516 510h2v1h-2zM641 510h1v1h-1zM858 510h2v1h-2zM304 511h2v1h-2zM516 511h2v1h-2zM640 511h2v1h-2zM858 511h2v1h-2zM304 512h2v1h-2zM516 512h2v1h-2zM640 512h2v1h-2zM858 512h2v1h-2zM304 513h1v1h-1zM517 513h1v1h-1zM859 513h2v1h-2zM303 514h2v1h-2zM859 514h2v1h-2zM303 515h2v1h-2zM639 515h2v1h-2zM303 516h2v1h-2zM517 516h2v1h-2zM639 516h2v1h-2zM303 517h1v1h-1zM517 517h2v1h-2zM639 517h2v1h-2zM860 517h2v1h-2zM303 518h1v1h-1zM518 518h1v1h-1zM639 518h1v1h-1zM860 518h2v1h-2zM518 519h2v1h-2zM638 519h2v1h-2zM861 519h2v1h-2zM518 520h2v1h-2zM638 520h2v1h-2zM861 520h2v1h-2zM301 521h2v1h-2zM518 521h2v1h-2zM638 521h2v1h-2zM861 521h2v1h-2zM301 522h2v1h-2zM519 522h1v1h-1zM638 522h1v1h-1zM862 522h2v1h-2zM301 523h2v1h-2zM862 523h2v1h-2zM300 524h2v1h-2zM862 524h2v1h-2zM300 525h2v1h-2zM637 525h1v1h-1zM300 526h2v1h-2zM520 526h1v1h-1zM637 526h1v1h-1zM300 527h1v1h-1zM520 527h2v1h-2zM636 527h2v1h-2zM864 527h1v1h-1zM520 528h2v1h-2zM636 528h2v1h-2zM864 528h2v1h-2zM520 529h2v1h-2zM636 529h2v1h-2zM864 529h2v1h-2zM299 530h1v1h-1zM521 530h1v1h-1zM636 530h1v1h-1zM864 530h2v1h-2zM298 531h2v1h-2zM521 531h2v1h-2zM635 531h2v1h-2zM865 531h2v1h-2zM298 532h2v1h-2zM521 532h2v1h-2zM635 532h2v1h-2zM865 532h2v1h-2zM298 533h1v1h-1zM865 533h2v1h-2zM297 534h2v1h-2zM297 535h2v1h-2zM522 535h2v1h-2zM634 535h2v1h-2zM297 536h1v1h-1zM522 536h2v1h-2zM634 536h2v1h-2zM867 536h1v1h-1zM297 537h1v1h-1zM522 537h2v1h-2zM634 537h2v1h-2zM867 537h2v1h-2zM523 538h1v1h-1zM634 538h1v1h-1zM867 538h2v1h-2zM976 538h2v1h-2zM523 539h2v1h-2zM633 539h2v1h-2zM868 539h2v1h-2zM976 539h2v1h-2zM295 540h2v1h-2zM523 540h2v1h-2zM633 540h2v1h-2zM868 540h2v1h-2zM976 540h1v1h-1zM295 541h2v1h-2zM523 541h2v1h-2zM633 541h2v1h-2zM868 541h2v1h-2zM295 542h2v1h-2zM524 542h1v1h-1zM869 542h2v1h-2zM294 543h2v1h-2zM869 543h2v1h-2zM975 543h2v1h-2zM294 544h2v1h-2zM632 544h1v1h-1zM975 544h2v1h-2zM294 545h2v1h-2zM525 545h1v1h-1zM632 545h1v1h-1zM975 545h1v1h-1zM294 546h1v1h-1zM525 546h2v1h-2zM631 546h2v1h-2zM870 546h2v1h-2zM975 546h1v1h-1zM525 547h2v1h-2zM631 547h2v1h-2zM871 547h2v1h-2zM974 547h2v1h-2zM525 548h2v1h-2zM631 548h2v1h-2zM871 548h2v1h-2zM974 548h2v1h-2zM292 549h2v1h-2zM526 549h1v1h-1zM631 549h1v1h-1zM871 549h2v1h-2zM974 549h2v1h-2zM292 550h2v1h-2zM526 550h2v1h-2zM630 550h2v1h-2zM872 550h2v1h-2zM974 550h1v1h-1zM292 551h1v1h-1zM526 551h2v1h-2zM630 551h2v1h-2zM872 551h2v1h-2zM188 552h1v1h-1zM291 552h2v1h-2zM873 552h1v1h-1zM188 553h2v1h-2zM291 553h2v1h-2zM973 553h2v1h-2zM188 554h2v1h-2zM291 554h1v1h-1zM629 554h2v1h-2zM973 554h2v1h-2zM189 555h2v1h-2zM290 555h2v1h-2zM527 555h2v1h-2zM629 555h2v1h-2zM874 555h2v1h-2zM973 555h1v1h-1zM189 556h2v1h-2zM290 556h2v1h-2zM528 556h1v1h-1zM629 556h1v1h-1zM874 556h2v1h-2zM972 556h2v1h-2zM189 557h2v1h-2zM528 557h2v1h-2zM628 557h2v1h-2zM875 557h2v1h-2zM972 557h2v1h-2zM190 558h2v1h-2zM528 558h2v1h-2zM628 558h2v1h-2zM875 558h2v1h-2zM972 558h2v1h-2zM289 559h1v1h-1zM528 559h2v1h-2zM628 559h2v1h-2zM876 559h1v1h-1zM972 559h1v1h-1zM288 560h2v1h-2zM529 560h1v1h-1zM628 560h1v1h-1zM876 560h2v1h-2zM972 560h1v1h-1zM192 561h1v1h-1zM288 561h2v1h-2zM529 561h1v1h-1zM628 561h1v1h-1zM876 561h2v1h-2zM192 562h2v1h-2zM287 562h2v1h-2zM192 563h2v1h-2zM287 563h2v1h-2zM971 563h1v1h-1zM193 564h2v1h-2zM287 564h2v1h-2zM530 564h2v1h-2zM626 564h2v1h-2zM878 564h2v1h-2zM970 564h2v1h-2zM193 565h2v1h-2zM287 565h1v1h-1zM530 565h2v1h-2zM626 565h2v1h-2zM878 565h2v1h-2zM970 565h2v1h-2zM194 566h2v1h-2zM530 566h2v1h-2zM626 566h2v1h-2zM879 566h2v1h-2zM970 566h2v1h-2zM194 567h2v1h-2zM531 567h1v1h-1zM626 567h1v1h-1zM879 567h2v1h-2zM970 567h1v1h-1zM285 568h2v1h-2zM531 568h2v1h-2zM625 568h2v1h-2zM880 568h2v1h-2zM969 568h2v1h-2zM285 569h2v1h-2zM531 569h2v1h-2zM625 569h2v1h-2zM880 569h2v1h-2zM969 569h2v1h-2zM196 570h2v1h-2zM284 570h2v1h-2zM531 570h2v1h-2zM625 570h2v1h-2zM880 570h2v1h-2zM196 571h2v1h-2zM284 571h2v1h-2zM532 571h1v1h-1zM197 572h2v1h-2zM283 572h2v1h-2zM968 572h2v1h-2zM197 573h2v1h-2zM283 573h2v1h-2zM624 573h1v1h-1zM882 573h2v1h-2zM968 573h2v1h-2zM198 574h2v1h-2zM283 574h2v1h-2zM533 574h1v1h-1zM624 574h1v1h-1zM882 574h3v1h-3zM968 574h1v1h-1zM198 575h2v1h-2zM533 575h2v1h-2zM623 575h2v1h-2zM883 575h2v1h-2zM967 575h2v1h-2zM199 576h1v1h-1zM533 576h2v1h-2zM623 576h2v1h-2zM884 576h2v1h-2zM967 576h2v1h-2zM281 577h2v1h-2zM534 577h1v1h-1zM623 577h1v1h-1zM884 577h2v1h-2zM966 577h2v1h-2zM281 578h2v1h-2zM534 578h2v1h-2zM622 578h2v1h-2zM885 578h2v1h-2zM966 578h2v1h-2zM201 579h1v1h-1zM280 579h2v1h-2zM534 579h2v1h-2zM622 579h2v1h-2zM885 579h2v1h-2zM966 579h2v1h-2zM201 580h2v1h-2zM280 580h2v1h-2zM534 580h2v1h-2zM622 580h2v1h-2zM201 581h3v1h-3zM279 581h2v1h-2zM202 582h2v1h-2zM279 582h2v1h-2zM887 582h2v1h-2zM965 582h1v1h-1zM203 583h2v1h-2zM279 583h1v1h-1zM536 583h1v1h-1zM621 583h1v1h-1zM887 583h3v1h-3zM964 583h2v1h-2zM203 584h2v1h-2zM536 584h1v1h-1zM621 584h1v1h-1zM888 584h2v1h-2zM964 584h2v1h-2zM204 585h1v1h-1zM536 585h2v1h-2zM620 585h2v1h-2zM889 585h2v1h-2zM963 585h2v1h-2zM277 586h1v1h-1zM536 586h2v1h-2zM620 586h2v1h-2zM889 586h2v1h-2zM963 586h2v1h-2zM276 587h2v1h-2zM537 587h1v1h-1zM620 587h1v1h-1zM890 587h2v1h-2zM962 587h2v1h-2zM206 588h2v1h-2zM276 588h2v1h-2zM537 588h2v1h-2zM619 588h2v1h-2zM890 588h2v1h-2zM962 588h2v1h-2zM206 589h3v1h-3zM275 589h2v1h-2zM537 589h2v1h-2zM619 589h2v1h-2zM207 590h2v1h-2zM275 590h2v1h-2zM538 590h1v1h-1zM893 590h1v1h-1zM208 591h2v1h-2zM274 591h2v1h-2zM893 591h2v1h-2zM960 591h2v1h-2zM208 592h3v1h-3zM274 592h2v1h-2zM618 592h1v1h-1zM893 592h3v1h-3zM960 592h2v1h-2zM209 593h2v1h-2zM539 593h1v1h-1zM618 593h1v1h-1zM894 593h2v1h-2zM959 593h2v1h-2zM539 594h2v1h-2zM617 594h2v1h-2zM895 594h2v1h-2zM959 594h2v1h-2zM272 595h1v1h-1zM539 595h2v1h-2zM617 595h2v1h-2zM895 595h3v1h-3zM958 595h2v1h-2zM212 596h2v1h-2zM271 596h2v1h-2zM539 596h2v1h-2zM617 596h2v1h-2zM896 596h2v1h-2zM957 596h3v1h-3zM212 597h3v1h-3zM270 597h3v1h-3zM540 597h2v1h-2zM616 597h2v1h-2zM957 597h2v1h-2zM213 598h3v1h-3zM270 598h2v1h-2zM540 598h2v1h-2zM616 598h2v1h-2zM899 598h1v1h-1zM214 599h3v1h-3zM269 599h2v1h-2zM540 599h2v1h-2zM616 599h2v1h-2zM899 599h2v1h-2zM955 599h2v1h-2zM215 600h3v1h-3zM268 600h3v1h-3zM900 600h2v1h-2zM954 600h3v1h-3zM216 601h2v1h-2zM268 601h2v1h-2zM901 601h2v1h-2zM954 601h2v1h-2zM542 602h1v1h-1zM615 602h1v1h-1zM902 602h2v1h-2zM953 602h2v1h-2zM219 603h1v1h-1zM266 603h2v1h-2zM542 603h2v1h-2zM614 603h2v1h-2zM903 603h2v1h-2zM952 603h2v1h-2zM219 604h3v1h-3zM265 604h3v1h-3zM542 604h2v1h-2zM614 604h2v1h-2zM951 604h3v1h-3zM220 605h3v1h-3zM264 605h3v1h-3zM542 605h2v1h-2zM614 605h2v1h-2zM906 605h2v1h-2zM221 606h3v1h-3zM263 606h3v1h-3zM543 606h2v1h-2zM613 606h2v1h-2zM906 606h3v1h-3zM949 606h1v1h-1zM222 607h3v1h-3zM262 607h3v1h-3zM543 607h2v1h-2zM613 607h2v1h-2zM907 607h4v1h-4zM947 607h3v1h-3zM223 608h2v1h-2zM262 608h2v1h-2zM543 608h2v1h-2zM613 608h2v1h-2zM909 608h3v1h-3zM946 608h3v1h-3zM544 609h1v1h-1zM910 609h3v1h-3zM944 609h4v1h-4zM226 610h3v1h-3zM259 610h2v1h-2zM914 610h2v1h-2zM943 610h3v1h-3zM227 611h3v1h-3zM258 611h3v1h-3zM612 611h1v1h-1zM914 611h4v1h-4zM943 611h2v1h-2zM228 612h4v1h-4zM256 612h4v1h-4zM545 612h2v1h-2zM611 612h2v1h-2zM916 612h5v1h-5zM938 612h4v1h-4zM230 613h3v1h-3zM255 613h3v1h-3zM545 613h2v1h-2zM611 613h2v1h-2zM918 613h4v1h-4zM924 613h1v1h-1zM934 613h6v1h-6zM232 614h1v1h-1zM254 614h3v1h-3zM546 614h2v1h-2zM610 614h2v1h-2zM924 614h8v1h-8zM934 614h3v1h-3zM235 615h4v1h-4zM250 615h2v1h-2zM546 615h2v1h-2zM610 615h2v1h-2zM236 616h6v1h-6zM245 616h7v1h-7zM546 616h2v1h-2zM610 616h2v1h-2zM240 617h2v1h-2zM245 617h4v1h-4zM547 617h2v1h-2zM609 617h2v1h-2zM547 618h2v1h-2zM609 618h2v1h-2zM549 621h1v1h-1zM608 621h1v1h-1zM549 622h2v1h-2zM607 622h2v1h-2zM549 623h2v1h-2zM607 623h2v1h-2zM550 624h2v1h-2zM606 624h2v1h-2zM550 625h2v1h-2zM606 625h2v1h-2zM550 626h2v1h-2zM605 626h2v1h-2zM551 627h2v1h-2zM605 627h2v1h-2zM553 630h1v1h-1zM604 630h1v1h-1zM553 631h2v1h-2zM603 631h2v1h-2zM553 632h2v1h-2zM603 632h2v1h-2zM554 633h2v1h-2zM602 633h2v1h-2zM554 634h2v1h-2zM602 634h2v1h-2zM555 635h2v1h-2zM601 635h2v1h-2zM555 636h2v1h-2zM601 636h2v1h-2zM557 639h2v1h-2zM599 639h2v1h-2zM557 640h2v1h-2zM598 640h3v1h-3zM558 641h2v1h-2zM598 641h2v1h-2zM558 642h3v1h-3zM597 642h2v1h-2zM559 643h2v1h-2zM596 643h3v1h-3zM560 644h2v1h-2zM596 644h2v1h-2zM560 645h2v1h-2zM596 645h1v1h-1zM563 647h1v1h-1zM593 647h2v1h-2zM563 648h2v1h-2zM592 648h3v1h-3zM564 649h2v1h-2zM591 649h3v1h-3zM564 650h3v1h-3zM590 650h3v1h-3zM565 651h3v1h-3zM589 651h3v1h-3zM567 652h2v1h-2zM589 652h2v1h-2zM571 654h2v1h-2zM584 654h4v1h-4zM571 655h5v1h-5zM581 655h6v1h-6zM573 656h5v1h-5zM580 656h4v1h-4z" fill="#000" shape-rendering="crispEdges"/>
<path d="M672 616h34v1h-34zM743 615h18v2h-18zM743 623h18v2h-18zM743 648h18v2h-18zM743 656h18v2h-18z" fill="#000" shape-rendering="crispEdges"/>
<path d="M672 649h7v1h-7zM682 649h7v1h-7zM692 649h7v1h-7zM703 649h3v1h-3z" fill="#000" shape-rendering="crispEdges"/>
<defs><filter id="bin" x="0" y="0" width="1101" height="851" filterUnits="userSpaceOnUse" color-interpolation-filters="sRGB"><feComponentTransfer><feFuncA type="discrete" tableValues="0 1"/></feComponentTransfer></filter></defs>
<g filter="url(#bin)">
<text x="181.5" y="202" text-anchor="end">4,49998</text>
<text x="182.5" y="324" text-anchor="end">4,49999</text>
<text x="182.5" y="446" text-anchor="end">4,5</text>
<text x="183.5" y="568" text-anchor="end">4,50001</text>
<text x="181.5" y="691" text-anchor="end">4,50002</text>
<text x="307" y="756" text-anchor="middle">-0,4</text>
<text x="444" y="756" text-anchor="middle">-0,2</text>
<text x="581" y="756" text-anchor="middle">0</text>
<text x="717" y="756" text-anchor="middle">0,2</text>
<text x="853.5" y="756" text-anchor="middle">0,4</text>
<text x="584" y="793.5" text-anchor="middle">phase</text>
<text transform="translate(49,425) rotate(-90)" text-anchor="middle">V mag</text>
<text x="722.5" y="629.0"><tspan dx="1">i</tspan><tspan dx="-1" fill="transparent"> = </tspan>37</text>
<text x="722.5" y="662.0"><tspan dx="1">i</tspan><tspan dx="-1" fill="transparent"> = </tspan>80</text>
</g>
</svg>
</body></html>
